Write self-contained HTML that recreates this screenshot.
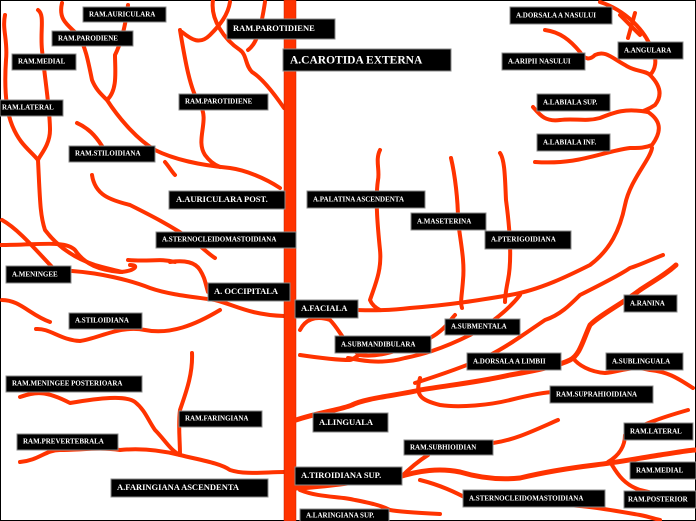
<!DOCTYPE html>
<html><head><style>
html,body{margin:0;padding:0;background:#fff}
svg{display:block}
.v{fill:none;stroke:#ff3300;stroke-width:4;stroke-linecap:round;stroke-linejoin:round}
.lb{fill:#000;stroke:#888;stroke-width:1}
text{font-family:"Liberation Serif",serif;font-weight:bold;fill:#fff;font-size:7px;dominant-baseline:middle}
</style></head><body>
<svg width="696" height="521" viewBox="0 0 696 521" xmlns="http://www.w3.org/2000/svg">
<rect x="0.5" y="0.5" width="695" height="520" fill="#fff" stroke="#000"/>
<path class="v" d="M5,15 C2,30 8,40 6,60 C4,90 6,110 12,125 C20,145 30,150 38,160"/>
<path class="v" d="M38,10 C45,15 40,30 42,50 C45,80 50,110 50,130 C50,145 40,155 38,160 C40,200 40,215 45,230 C60,250 80,260 95,265 C105,268 115,270 122,272"/>
<path class="v" d="M62,3 C58,20 68,25 78,35 C85,45 88,60 92,80 C96,90 102,95 107,100 C118,90 115,70 115,55 C120,45 125,30 128,5"/>
<path class="v" d="M107,100 C120,120 138,140 155,150 C175,160 200,165 230,168 C245,170 265,178 280,188"/>
<path class="v" d="M77,123 C88,128 95,135 102,146"/>
<path class="v" d="M182,32 C192,40 200,45 210,35 C220,25 228,15 230,2"/>
<path class="v" d="M213,0 C210,20 225,40 240,50 C247,55 245,65 252,72 C262,78 275,95 284,108"/>
<path class="v" d="M248,50 C255,45 260,35 265,2"/>
<path class="v" d="M180,30 C185,60 190,90 200,105 C210,120 195,140 205,155 C210,162 215,165 220,167"/>
<path class="v" d="M165,162 C170,168 172,172 175,175"/>
<path class="v" d="M92,175 C95,195 110,200 130,205 C150,215 170,225 195,242 C205,250 210,255 215,258"/>
<path class="v" d="M2,220 C20,230 40,255 55,270"/>
<path class="v" d="M2,300 C20,300 30,315 50,322"/>
<path class="v" d="M0,245 C40,245 65,240 75,250 C85,265 100,270 120,272 C135,271 140,265 130,265"/>
<path class="v" d="M72,271 C100,273 130,280 150,288 C170,295 195,297 215,300 C235,305 250,315 284,316"/>
<path class="v" d="M170,262 C185,260 195,262 200,270 C205,278 205,282 208,292"/>
<path class="v" d="M36,329 C50,328 60,340 80,341 C100,338 120,325 145,330 C170,335 195,325 220,310"/>
<path class="v" d="M128,260 C150,262 160,258 175,262"/>
<path class="v" d="M20,397 C35,392 45,390 70,403 C100,398 125,395 135,402 C145,410 148,420 155,430 C165,440 170,450 180,455"/>
<path class="v" d="M20,462 C40,460 45,450 60,450 C80,450 100,447 120,450 C140,448 160,450 180,455"/>
<path class="v" d="M192,353 C193,375 185,395 180,410 C178,425 180,440 180,455"/>
<path class="v" d="M180,455 C200,460 220,463 230,470 C245,475 265,472 284,472"/>
<rect x="284" y="0" width="12" height="521" fill="#ff3300" stroke="#c02000" stroke-width="0.5"/>
<path class="v" d="M296,308 C350,310 380,312 410,308 C450,305 480,300 510,295 C540,290 570,275 590,265 C610,250 620,230 625,205 C630,180 650,160 652,148"/>
<path class="v" d="M300,330 C305,320 315,315 330,320 C340,330 345,345 360,355 C380,358 400,350 430,338 C445,330 450,320 455,315"/>
<path class="v" d="M300,355 C320,358 340,360 350,360 C355,360 360,350 378,348 C400,342 420,340 430,338"/>
<path class="v" d="M348,358 C360,360 380,365 405,358 C420,355 440,350 470,335 C490,325 510,308 520,295"/>
<path class="v" d="M380,150 C375,160 380,170 378,180 C375,200 378,230 380,250 C382,270 375,285 370,300 C372,305 376,308 380,310"/>
<path class="v" d="M451,158 C455,175 458,200 458,220 C460,240 465,260 463,280 C462,295 460,302 462,308"/>
<path class="v" d="M500,153 C505,160 505,180 506,200 C510,230 512,260 508,280 C505,295 505,300 505,302"/>
<path class="v" d="M600,2 C625,10 645,30 652,50 C658,60 655,70 650,75 C660,85 663,95 655,105 C645,112 640,110 648,112 C660,120 663,130 652,145 C645,148 640,148 630,148 C600,152 580,165 535,162"/>
<path class="v" d="M620,15 L640,35 M635,13 L628,38"/>
<path class="v" d="M545,30 C560,32 570,40 580,52 C585,60 590,60 595,55 C605,50 612,58 625,65 C635,72 645,70 650,75"/>
<path class="v" d="M533,107 C540,115 545,122 560,120 C575,118 585,122 600,118 C615,112 625,108 648,112"/>
<path class="v" style="stroke-width:5" d="M296,420 C320,412 340,410 352,405 C365,398 400,395 420,390 C450,385 480,382 510,375 C540,370 560,365 570,360 C580,355 583,340 590,325 C600,315 620,305 640,290 C655,280 665,275 676,265"/>
<path class="v" d="M415,383 C440,375 470,365 490,355 C510,345 530,330 545,320 C560,315 570,305 580,295 C600,285 620,275 630,268 C640,265 650,260 663,255"/>
<path class="v" d="M420,378 C415,395 420,400 440,405 C460,408 490,405 510,400 C530,395 545,392 555,392"/>
<path class="v" d="M573,358 C578,365 590,372 605,373 C620,372 630,365 650,370 C670,372 680,380 693,388"/>
<path class="v" style="stroke-width:5" d="M296,488 C330,487 360,480 395,478 C420,470 440,468 460,472 C480,478 500,480 520,478 C545,472 570,468 595,465 C620,462 640,458 660,455 C680,452 690,450 696,450"/>
<path class="v" d="M400,478 C410,468 420,460 428,455"/>
<path class="v" d="M493,443 C515,440 535,430 558,420"/>
<path class="v" d="M608,462 C620,455 625,445 625,435 C640,425 660,418 688,410"/>
<path class="v" d="M612,465 C618,475 625,485 640,490 C660,495 675,498 690,502"/>
<path class="v" d="M420,480 C440,485 455,492 470,500 C490,505 520,505 560,505 C580,505 600,508 640,515 C650,517 655,519 660,520"/>
<path class="v" d="M300,490 C320,498 340,496 355,500 C370,503 380,505 390,510 C400,512 420,513 440,514"/>
<g>
<rect class="lb" x="83" y="7" width="83" height="15"/><text x="89" y="15">RAM.AURICULARA</text>
<rect class="lb" x="52" y="31" width="81" height="15"/><text x="58" y="39">RAM.PARODIENE</text>
<rect class="lb" x="12" y="54" width="64" height="16"/><text x="18" y="62">RAM.MEDIAL</text>
<rect class="lb" x="0" y="100" width="63" height="16"/><text x="2" y="108">RAM.LATERAL</text>
<rect class="lb" x="227" y="19" width="108" height="20"/><text x="233" y="29" style="font-size:8.5px">RAM.PAROTIDIENE</text>
<rect class="lb" x="283" y="49" width="168" height="22"/><text x="290" y="61" style="font-size:11.5px">A.CAROTIDA EXTERNA</text>
<rect class="lb" x="179" y="94" width="89" height="16"/><text x="185" y="102">RAM.PAROTIDIENE</text>
<rect class="lb" x="69" y="146" width="86" height="16"/><text x="75" y="154">RAM.STILOIDIANA</text>
<rect class="lb" x="169" y="191" width="116" height="18"/><text x="176" y="200" style="font-size:8.5px">A.AURICULARA POST.</text>
<rect class="lb" x="307" y="191" width="118" height="17"/><text x="313" y="200">A.PALATINA ASCENDENTA</text>
<rect class="lb" x="156" y="232" width="140" height="16"/><text x="162" y="240">A.STERNOCLEIDOMASTOIDIANA</text>
<rect class="lb" x="510" y="7" width="102" height="17"/><text x="516" y="16">A.DORSALA A NASULUI</text>
<rect class="lb" x="618" y="42" width="65" height="17"/><text x="624" y="51">A.ANGULARA</text>
<rect class="lb" x="502" y="53" width="83" height="17"/><text x="508" y="62">A.ARIPII NASULUI</text>
<rect class="lb" x="537" y="94" width="73" height="17"/><text x="543" y="103">A.LABIALA SUP.</text>
<rect class="lb" x="537" y="134" width="73" height="17"/><text x="543" y="143">A.LABIALA INF.</text>
<rect class="lb" x="411" y="213" width="75" height="17"/><text x="417" y="222">A.MASETERINA</text>
<rect class="lb" x="485" y="231" width="86" height="18"/><text x="491" y="240">A.PTERIGOIDIANA</text>
<rect class="lb" x="6" y="266" width="65" height="17"/><text x="12" y="275">A.MENINGEE</text>
<rect class="lb" x="208" y="283" width="82" height="18"/><text x="214" y="292" style="font-size:8.5px">A. OCCIPITALA</text>
<rect class="lb" x="69" y="313" width="73" height="16"/><text x="75" y="321">A.STILOIDIANA</text>
<rect class="lb" x="295" y="300" width="63" height="18"/><text x="301" y="309" style="font-size:8.5px">A.FACIALA</text>
<rect class="lb" x="335" y="336" width="96" height="17"/><text x="341" y="345">A.SUBMANDIBULARA</text>
<rect class="lb" x="445" y="319" width="75" height="16"/><text x="451" y="327">A.SUBMENTALA</text>
<rect class="lb" x="624" y="295" width="53" height="17"/><text x="630" y="304">A.RANINA</text>
<rect class="lb" x="467" y="353" width="94" height="17"/><text x="473" y="362">A.DORSALA A LIMBII</text>
<rect class="lb" x="606" y="353" width="77" height="17"/><text x="612" y="362">A.SUBLINGUALA</text>
<rect class="lb" x="550" y="386" width="103" height="17"/><text x="556" y="395">RAM.SUPRAHIOIDIANA</text>
<rect class="lb" x="6" y="376" width="136" height="16"/><text x="12" y="384">RAM.MENINGEE POSTERIOARA</text>
<rect class="lb" x="179" y="411" width="83" height="16"/><text x="185" y="419">RAM.FARINGIANA</text>
<rect class="lb" x="17" y="434" width="101" height="16"/><text x="23" y="442">RAM.PREVERTEBRALA</text>
<rect class="lb" x="313" y="413" width="75" height="19"/><text x="319" y="423" style="font-size:8.5px">A.LINGUALA</text>
<rect class="lb" x="111" y="479" width="157" height="18"/><text x="117" y="488" style="font-size:8.5px">A.FARINGIANA ASCENDENTA</text>
<rect class="lb" x="295" y="467" width="107" height="18"/><text x="301" y="476" style="font-size:8.5px">A.TIROIDIANA SUP.</text>
<rect class="lb" x="404" y="440" width="89" height="15"/><text x="410" y="448">RAM.SUBHIOIDIAN</text>
<rect class="lb" x="624" y="423" width="69" height="17"/><text x="630" y="432">RAM.LATERAL</text>
<rect class="lb" x="630" y="462" width="66" height="17"/><text x="636" y="471">RAM.MEDIAL</text>
<rect class="lb" x="624" y="491" width="72" height="17"/><text x="628" y="500">RAM.POSTERIOR</text>
<rect class="lb" x="463" y="490" width="142" height="17"/><text x="469" y="499">A.STERNOCLEIDOMASTOIDIANA</text>
<rect class="lb" x="300" y="509" width="89" height="14"/><text x="306" y="516">A.LARINGIANA SUP.</text>
</g>
</svg>
</body></html>
